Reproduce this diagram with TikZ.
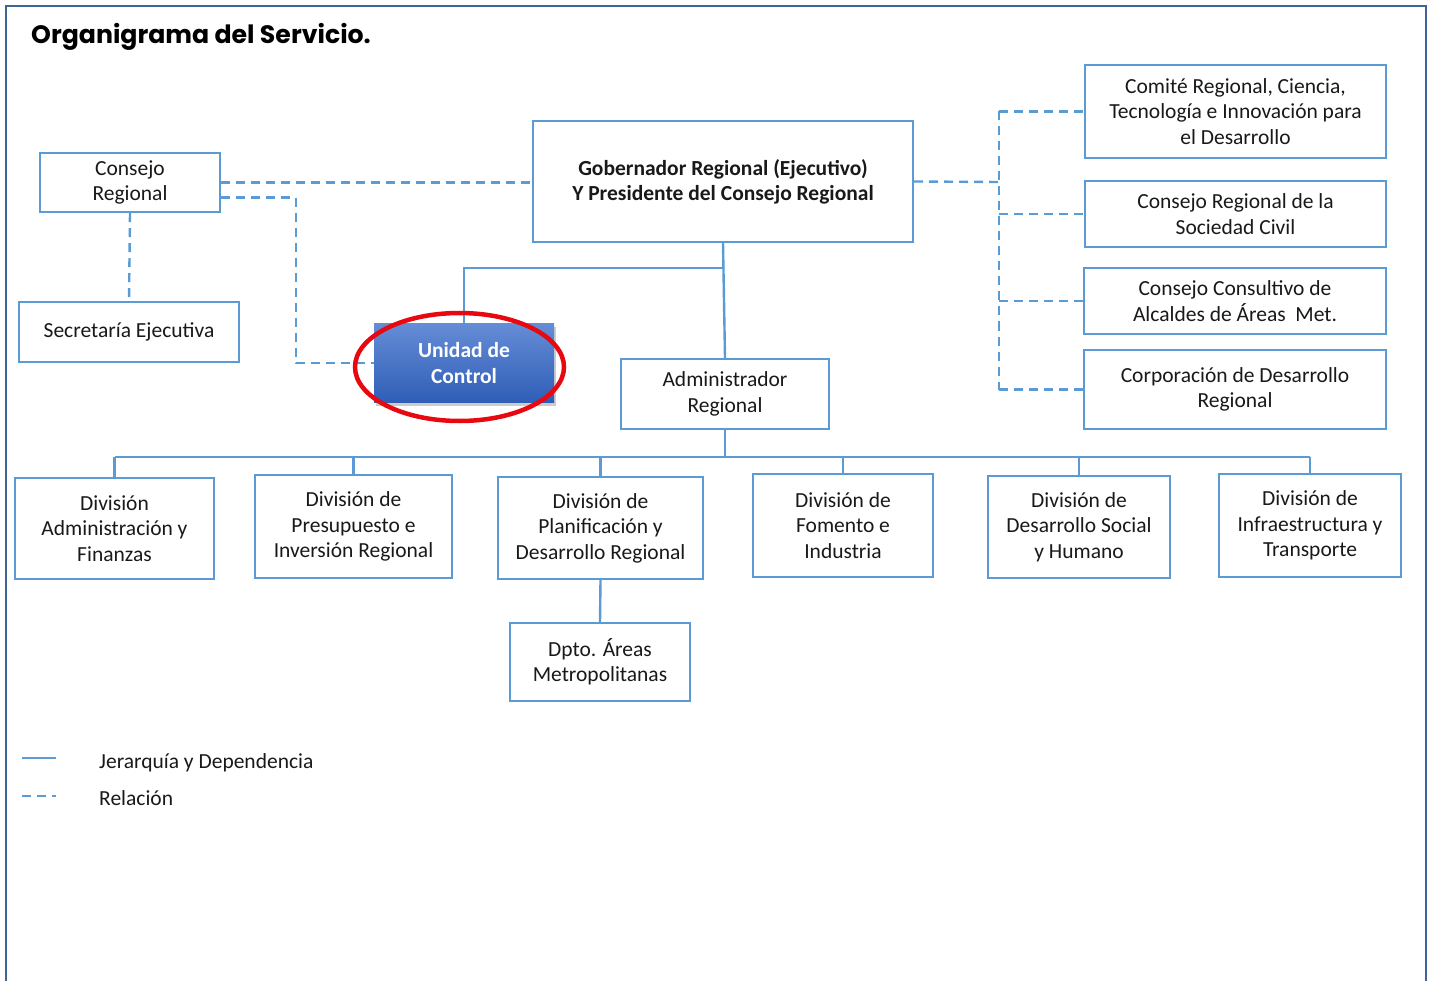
\documentclass[tikz,border=0pt]{standalone}
\usepackage{fontspec}
\setmainfont{Carlito}
\newfontfamily\titlefont{Poppins}
\usetikzlibrary{shadows,calc,shapes.geometric}
\definecolor{lineblue}{RGB}{91,155,213}
\definecolor{framecol}{RGB}{64,100,150}
\definecolor{uctop}{RGB}{101,140,214}
\definecolor{ucbot}{RGB}{47,94,183}
\definecolor{redring}{RGB}{232,8,16}
\definecolor{txt}{RGB}{25,25,25}
\tikzset{
  box/.style={draw=lineblue, line width=2.2pt, fill=white, align=center, inner sep=0pt,
    font=\fontsize{21.5}{25.5}\selectfont, text=txt},
  hier/.style={draw=lineblue, line width=2.4pt},
  rel/.style={draw=lineblue, line width=2.4pt, dash pattern=on 9pt off 6pt},
  framel/.style={draw=framecol, line width=2pt},
  legtext/.style={anchor=west, inner sep=0pt, font=\fontsize{21.5}{25.5}\selectfont, text=txt}
}
\begin{document}
\begin{tikzpicture}[x=1pt,y=-1pt]
\useasboundingbox (0,0) rectangle (1431,981);
% frame
\draw[framel] (6,990) -- (6,6) -- (1426,6) -- (1426,990);
% title
\node[anchor=west, inner sep=0pt, text=black] (title) at (31,36.5) {\titlefont\bfseries\fontsize{25.2}{30}\selectfont Organigrama del Servicio.};
% nodes
\node[box, minimum width=180, minimum height=59] (cr) at (130,182.5) {Consejo\\Regional};
\node[box, minimum width=220, minimum height=60] (se) at (129,332) {Secretaría Ejecutiva};
\node[box, minimum width=380, minimum height=121, font=\bfseries\fontsize{21.5}{25}\selectfont] (gob) at (723,181.5) {Gobernador Regional (Ejecutivo)\\Y Presidente del Consejo Regional};
\node[draw=none, minimum width=180, minimum height=79, top color=uctop, bottom color=ucbot,
  drop shadow={opacity=0.4, shadow xshift=2pt, shadow yshift=-3pt},
  align=center, text=white, font=\bfseries\fontsize{21.5}{25.5}\selectfont] (uc) at (464,363) {Unidad de\\Control};
\node[box, minimum width=208, minimum height=70] (adm) at (725,394) {Administrador\\Regional};
\node[box, minimum width=199, minimum height=101] (d1) at (114.5,528.5) {División\\Administración y\\Finanzas};
\node[box, minimum width=197, minimum height=103] (d2) at (353.5,526.5) {División de\\Presupuesto e\\Inversión Regional};
\node[box, minimum width=205, minimum height=102] (d3) at (600.5,528) {División de\\Planificación y\\Desarrollo Regional};
\node[box, minimum width=180, minimum height=103] (d4) at (843,525.5) {División de\\Fomento e\\Industria};
\node[box, minimum width=182, minimum height=102] (d5) at (1079,527) {División de\\Desarrollo Social\\y Humano};
\node[box, minimum width=182, minimum height=103] (d6) at (1310,525.5) {División de\\Infraestructura y\\Transporte};
\node[box, minimum width=180, minimum height=78] (dp) at (600,662) {Dpto. Áreas\\Metropolitanas};
\node[box, minimum width=301, minimum height=93] (cm) at (1235.5,111.5) {Comité Regional, Ciencia,\\Tecnología e Innovación para\\el Desarrollo};
\node[box, minimum width=301, minimum height=66] (sc) at (1235.5,214) {Consejo Regional de la\\Sociedad Civil};
\node[box, minimum width=302, minimum height=66] (cc) at (1235,301) {Consejo Consultivo de\\Alcaldes de Áreas\ \ Met.};
\node[box, minimum width=302, minimum height=79] (corp) at (1235,389.5) {Corporación de Desarrollo\\Regional};
% relation (dashed) connectors
\draw[rel] (cr.east) -- (cr.east -| gob.west);
\coordinate (ucbend) at (296,363);
\draw[rel] ([yshift=-15pt]cr.east) -| (ucbend) -- (uc.west);
\draw[rel] (cr.south) -- (se.north);
\coordinate (rbus) at (999,182);
\draw[rel] (gob.east) -- (rbus);
\draw[rel] (rbus |- cm.west) -- (rbus |- corp.west);
\draw[rel] (rbus |- cm.west) -- (cm.west);
\draw[rel] (rbus |- sc.west) -- (sc.west);
\draw[rel] (rbus |- cc.west) -- (cc.west);
\draw[rel] (rbus |- corp.west) -- (corp.west);
% hierarchy connectors
\coordinate (gj) at (723,268);
\draw[hier] (gob.south) -- (gj) -| (uc.north);
\draw[hier] (gob.south) -- (adm.north);
\coordinate (bus) at (725,457);
\draw[hier] (adm.south) -- (bus);
\draw[hier] (d1.north |- bus) -- (d6.north |- bus);
\foreach \d in {d1,d2,d3,d4,d5,d6} { \draw[hier] (\d.north |- bus) -- (\d.north); }
\draw[hier] (d3.south) -- (dp.north);
% red ring
\node[draw=redring, line width=4.5pt, ellipse, minimum width=209, minimum height=108, inner sep=0pt] (ring) at (459.5,367) {};
% legend
\coordinate (la1) at (22,758); \coordinate (la2) at (56,758);
\draw[hier] (la1) -- (la2);
\coordinate (lb1) at (22,796); \coordinate (lb2) at (56,796);
\draw[rel] (lb1) -- (lb2);
\node[legtext] (lt1) at (99,763) {Jerarquía y Dependencia};
\node[legtext] (lt2) at (99,798) {Relación};
\end{tikzpicture}
\end{document}
